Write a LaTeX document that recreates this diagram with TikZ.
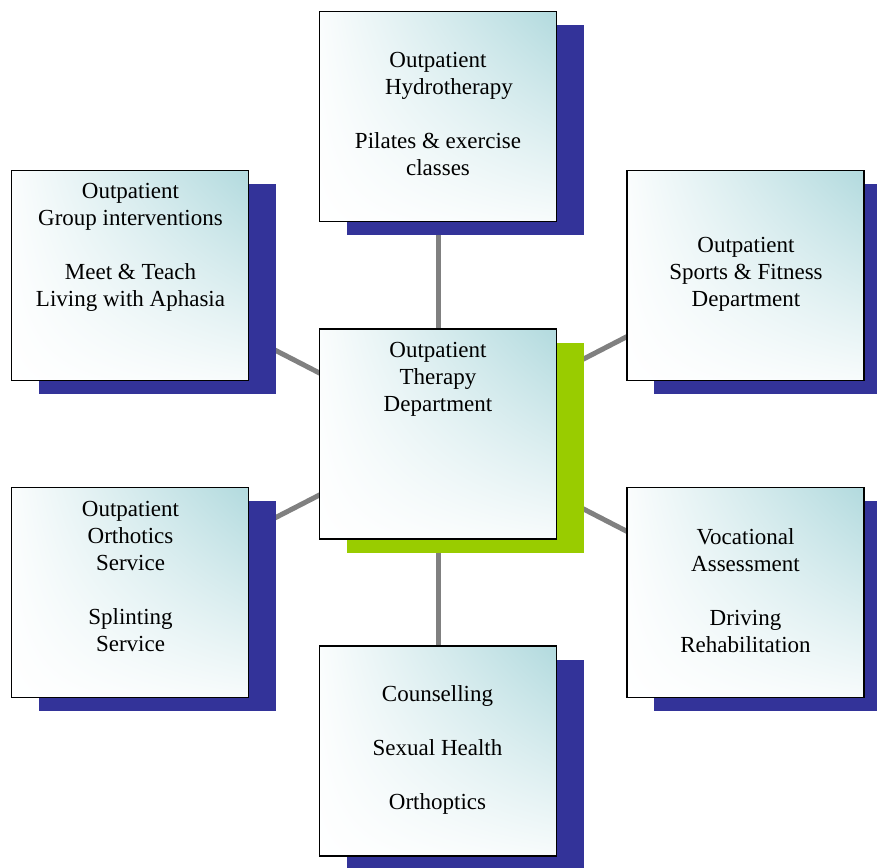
\documentclass[tikz,border=0pt]{standalone}
\usepackage{fontspec}
\setmainfont{Liberation Serif}
\usetikzlibrary{backgrounds,shadows,shadings}
\definecolor{shblue}{RGB}{51,51,153}
\definecolor{shgreen}{RGB}{153,204,0}
\definecolor{teal1}{RGB}{178,218,222}
\definecolor{linegray}{RGB}{128,128,128}
\tikzset{
  box/.style={draw=black, line width=1.5pt, minimum width=237pt, minimum height=210pt,
    inner sep=0pt, upper right=teal1, upper left=white!94!teal1, lower left=white, lower right=white!90!teal1},
  blueshadow/.style={general shadow={fill=shblue, shadow xshift=27pt, shadow yshift=-13.5pt}},
  greenshadow/.style={general shadow={fill=shgreen, shadow xshift=27pt, shadow yshift=-13.5pt}},
  txt/.style={font=\fontsize{23}{27}\selectfont, align=center, inner sep=0pt, anchor=north, text=black},
  conn/.style={draw=linegray, line width=5pt}
}
\begin{document}
\begin{tikzpicture}[x=1pt,y=-1pt]
\clip (0,0) rectangle (877,867);
\useasboundingbox (0,0) rectangle (877,867);
% boxes
\node[box, blueshadow] (top) at (438,116.5) {};
\node[box, blueshadow] (tl) at (130,275.5) {};
\node[box, blueshadow] (tr) at (745.5,275.5) {};
\node[box, greenshadow] (c) at (438,434) {};
\node[box, blueshadow] (bl) at (130,592.5) {};
\node[box, blueshadow] (br) at (745.5,592.5) {};
\node[box, blueshadow] (bot) at (438,751) {};
% connectors
\begin{scope}[on background layer]
\draw[conn] (c.center) -- (top.center);
\draw[conn] (c.center) -- (tl.center);
\draw[conn] (c.center) -- (tr.center);
\draw[conn] (c.center) -- (bl.center);
\draw[conn] (c.center) -- (br.center);
\draw[conn] (c.center) -- (bot.center);
\end{scope}
% texts
\node[txt] (ttop) at (438,52) {Outpatient\\\hspace*{22pt}Hydrotherapy\\[27pt]Pilates \& exercise\\classes};
\node[txt] (ttl) at (130.5,183) {Outpatient\\Group interventions\\[27pt]Meet \& Teach\\Living with Aphasia};
\node[txt] (ttr) at (746,237) {Outpatient\\Sports \& Fitness\\Department};
\node[txt] (tc) at (438,342) {Outpatient\\Therapy\\Department};
\node[txt] (tbl) at (130.5,501) {Outpatient\\Orthotics\\Service\\[27pt]Splinting\\Service};
\node[txt] (tbr) at (745.5,528) {Vocational\\Assessment\\[27pt]Driving\\Rehabilitation};
\node[txt] (tbot) at (437.5,685) {Counselling\\[27pt]Sexual Health\\[27pt]Orthoptics};
\end{tikzpicture}
\end{document}
